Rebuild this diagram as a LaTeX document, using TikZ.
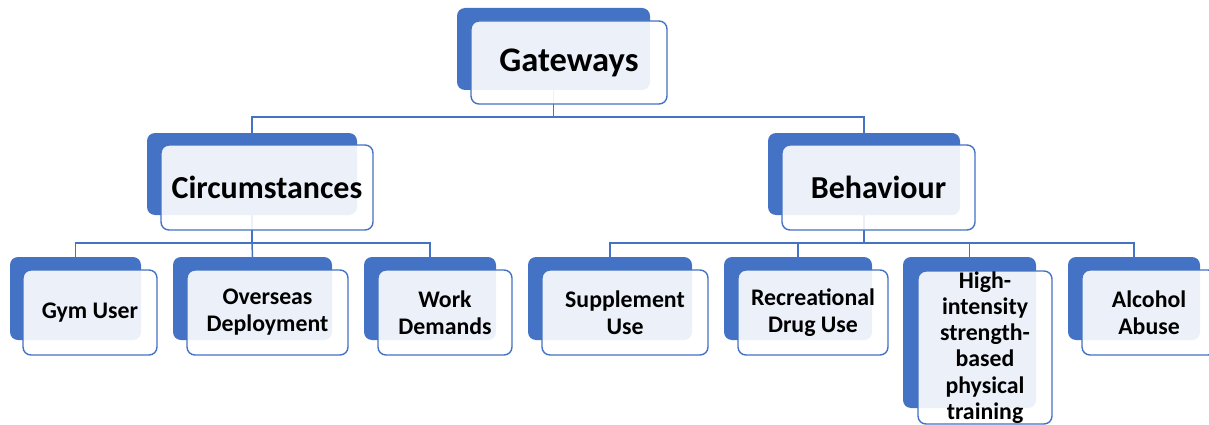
\documentclass[tikz,border=0pt]{standalone}
\usepackage{fontspec}
\setmainfont{Carlito}
\usetikzlibrary{backgrounds}
\definecolor{accent}{HTML}{4472C4}
\tikzset{
  backbox/.style={rectangle, rounded corners=8pt, fill=accent, draw=none, inner sep=0pt},
  frontbox/.style={rectangle, rounded corners=8pt, fill=white, fill opacity=0.9, text opacity=1,
    draw=accent, line width=1.4pt, inner sep=0pt, align=center, text=black},
  bigtext/.style={font=\fontsize{32}{38}\selectfont\bfseries},
  smalltext/.style={font=\fontsize{23.8}{27}\selectfont\bfseries},
  conn/.style={draw=accent, line width=1.5pt}
}
\begin{document}
\begin{tikzpicture}[x=1pt,y=-1pt]
\useasboundingbox (0,0) rectangle (1209,425);
\clip (0,0) rectangle (1209,425);

% top level
\node[backbox, minimum width=193pt, minimum height=82pt] (gw-b) at (553.5,49) {};
\node[frontbox, font=\fontsize{34.5}{41}\selectfont\bfseries, minimum width=196pt, minimum height=83pt] (gw) at (569,62.5) {Gateways};

% second level
\node[backbox, minimum width=210pt, minimum height=82pt] (circ-b) at (252,174) {};
\node[frontbox, bigtext, minimum width=212pt, minimum height=85pt] (circ) at (267,187.5) {Circumstances};
\node[backbox, minimum width=192pt, minimum height=82pt] (beh-b) at (864,174) {};
\node[frontbox, bigtext, minimum width=193pt, minimum height=85pt] (beh) at (878.5,187.5) {Behaviour};

% circumstances
\node[backbox, minimum width=131pt, minimum height=83pt] (gym-b) at (75.5,298.5) {};
\node[frontbox, smalltext, minimum width=134pt, minimum height=85pt] (gym) at (90,312.5) {Gym User};
\node[backbox, minimum width=159pt, minimum height=83pt] (ovs-b) at (252.5,298.5) {};
\node[frontbox, smalltext, minimum width=161pt, minimum height=85pt] (ovs) at (267.5,312.5) {Overseas\\Deployment};
\node[backbox, minimum width=132pt, minimum height=83pt] (work-b) at (430,298.5) {};
\node[frontbox, smalltext, minimum width=134pt, minimum height=85pt] (work) at (445,312.5) {Work\\Demands};

% behaviour
\node[backbox, minimum width=164pt, minimum height=83pt] (supp-b) at (610,298.5) {};
\node[frontbox, smalltext, minimum width=166pt, minimum height=85pt] (supp) at (625,312.5) {Supplement\\Use};
\node[backbox, minimum width=148pt, minimum height=83pt] (drug-b) at (798,298.5) {};
\node[frontbox, smalltext, minimum width=150pt, minimum height=85pt] (drug) at (813,312.5) {Recreational\\Drug Use};
\node[backbox, minimum width=133pt, minimum height=151pt] (hit-b) at (969.5,332.5) {};
\node[frontbox, font=\fontsize{23.8}{26.3}\selectfont\bfseries, minimum width=134pt, minimum height=153pt] (hit) at (985,347.5) {High-\\intensity\\strength-\\based\\physical\\training};
\node[backbox, minimum width=132pt, minimum height=83pt] (alc-b) at (1134,298.5) {};
\node[frontbox, smalltext, minimum width=134pt, minimum height=85pt] (alc) at (1149,312.5) {Alcohol\\Abuse};

% bus lines
\coordinate (bus1) at (0,117);
\coordinate (bus2) at (0,243);

\begin{pgfonlayer}{background}
\draw[conn] (gw-b.south) -- (gw-b.south |- bus1) -| (circ-b.north);
\draw[conn] (gw-b.south |- bus1) -| (beh-b.north);
\draw[conn] (circ-b.south) -- (circ-b.south |- bus2) -| (gym-b.north);
\draw[conn] (circ-b.south |- bus2) -- (ovs-b.north);
\draw[conn] (circ-b.south |- bus2) -| (work-b.north);
\draw[conn] (beh-b.south) -- (beh-b.south |- bus2) -| (supp-b.north);
\draw[conn] (beh-b.south |- bus2) -| (drug-b.north);
\draw[conn] (beh-b.south |- bus2) -| (hit-b.north);
\draw[conn] (beh-b.south |- bus2) -| (alc-b.north);
\end{pgfonlayer}
\end{tikzpicture}
\end{document}
